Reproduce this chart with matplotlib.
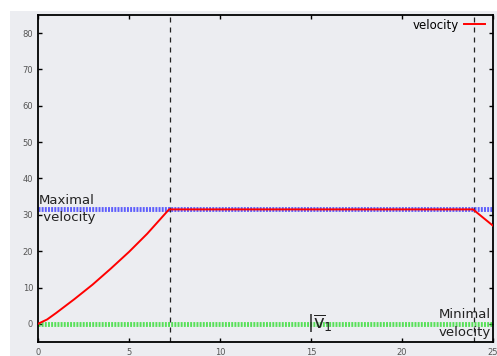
import numpy as np
import matplotlib.pyplot as plt
from matplotlib.patches import Rectangle

# velocity profile
time = [0, 0.5, 1, 2, 3, 4, 5, 6, 7.2, 10, 15, 20, 23.9, 25]
velocity = [0, 1.2, 3.0, 6.8, 10.8, 15.2, 19.8, 24.8, 31.5, 31.5, 31.5, 31.5, 31.5, 27.0]

max_velocity = 31.6
min_velocity = 0
phase_marks = [7.25, 23.95]
v1_pos = 15

xticks = [0, 5, 10, 15, 20, 25]
yticks = [0, 10, 20, 30, 40, 50, 60, 70, 80]

bg = '#ecedf1'
fig = plt.figure(figsize=(4.97, 3.56), dpi=100)
fig.patches.append(Rectangle((10 / 497, 0), 1, 1 - 11 / 356, transform=fig.transFigure,
                             facecolor=bg, edgecolor='none', zorder=-10))
ax = fig.add_axes([38 / 497, 1 - 342 / 356, 455 / 497, 327 / 356])
ax.set_facecolor(bg)

# limit lines
ax.axhline(max_velocity, color='#3a3aff', lw=3.5, ls=(0, (0.4, 0.25)), alpha=0.8, zorder=2)
ax.axhline(min_velocity, color='#33dd33', lw=3.5, ls=(0, (0.4, 0.25)), alpha=0.8, zorder=2)

ax.plot(time, velocity, color='red', lw=1.4, label='velocity', zorder=3)

for xm in phase_marks:
    ax.axvline(xm, color='#222222', lw=0.9, ls=(0, (4, 4)), zorder=1)

ax.text(0.05, max_velocity + 0.6, 'Maximal', fontsize=9.5, color='#222222', va='bottom', ha='left')
ax.text(0.05, max_velocity - 0.6, ' velocity', fontsize=9.5, color='#222222', va='top', ha='left')
ax.text(24.9, min_velocity + 0.7, 'Minimal', fontsize=9.5, color='#222222', va='bottom', ha='right')
ax.text(24.9, min_velocity - 0.7, 'velocity', fontsize=9.5, color='#222222', va='top', ha='right')
ax.text(v1_pos - 0.2, min_velocity, r'$|\overline{\mathrm{v}}_1$', fontsize=13, color='#222222',
        va='center', ha='left')

ax.set_xlim(0, 25)
ax.set_ylim(-5, 85)
ax.set_xticks(xticks)
ax.set_yticks(yticks)
ax.tick_params(direction='in', top=True, right=True, length=3, width=1, labelsize=6,
               labelcolor='#555555')
ax.tick_params(axis='x', pad=4)
for s in ax.spines.values():
    s.set_linewidth(1.3)

ax.legend(loc='upper right', bbox_to_anchor=(0.99, 1.0), frameon=False, fontsize=8.5,
          handlelength=1.8, markerfirst=False, borderaxespad=0.1, handletextpad=0.4,
          borderpad=0.2)

plt.savefig('out.png', dpi=100)
